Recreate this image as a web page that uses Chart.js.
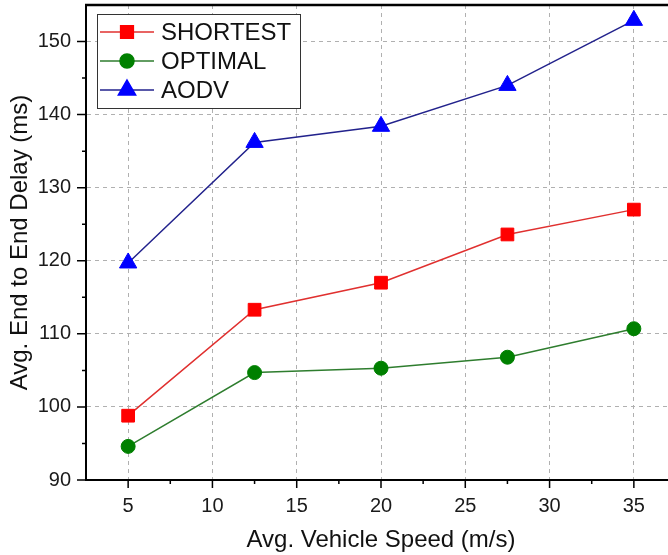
<!DOCTYPE html>
<html>
<head>
<meta charset="utf-8">
<script src="https://cdn.jsdelivr.net/npm/chart.js@4.4.0/dist/chart.umd.min.js"></script>
<style>
  html, body { margin: 0; padding: 0; overflow: hidden; background: #fff; }
  canvas { display: block; }
</style>
</head>
<body>
<canvas id="delay" width="676" height="555"></canvas>
<script>
// vehicle speed (m/s) and avg end-to-end delay (ms)
const speeds = [5, 12.5, 20, 27.5, 35];
const shortest = [98.8, 113.3, 117.0, 123.6, 127.0];
const optimal = [94.6, 104.7, 105.3, 106.8, 110.7];
const aodv = [119.7, 136.2, 138.4, 144.0, 152.9];

const xTicks = [5, 10, 15, 20, 25, 30, 35];
const xMinor = [7.5, 12.5, 17.5, 22.5, 27.5, 32.5];
const yTicks = [90, 100, 110, 120, 130, 140, 150];
const yMinor = [95, 105, 115, 125, 135, 145];

const FONT = "'Liberation Sans', Arial, sans-serif";

const series = [
    { label: 'SHORTEST', data: shortest, line: '#e0302f', fill: '#ff0000', style: 'rect', r: 9 },
    { label: 'OPTIMAL', data: optimal, line: '#2e7d2e', fill: '#008000', style: 'circle', r: 7 },
    { label: 'AODV', data: aodv, line: '#22228c', fill: '#0000ff', style: 'triangle', r: 10 },
];

// no label padding so the plot keeps its fixed box
function noPad(scale) {
    scale.paddingLeft = 0;
    scale.paddingRight = 0;
    scale.paddingTop = 0;
    scale.paddingBottom = 0;
}

// outward tick marks (major + minor), top frame line, and legend box inside plot
const extras = {
    id: 'extras',
    afterDraw(chart) {
        const ctx = chart.ctx;
        const x = chart.scales.x, y = chart.scales.y;
        const area = chart.chartArea;
        ctx.save();
        ctx.strokeStyle = '#000';
        ctx.lineWidth = 1.5;
        ctx.beginPath();
        xTicks.forEach(v => { const p = x.getPixelForValue(v); ctx.moveTo(p, area.bottom); ctx.lineTo(p, area.bottom + 8); });
        xMinor.forEach(v => { const p = x.getPixelForValue(v); ctx.moveTo(p, area.bottom); ctx.lineTo(p, area.bottom + 4); });
        yTicks.forEach(v => { const p = y.getPixelForValue(v); ctx.moveTo(area.left, p); ctx.lineTo(area.left - 9, p); });
        yMinor.forEach(v => { const p = y.getPixelForValue(v); ctx.moveTo(area.left, p); ctx.lineTo(area.left - 4, p); });
        ctx.stroke();

        ctx.lineWidth = 2.5;
        ctx.beginPath();
        ctx.moveTo(area.left - 1, area.top);
        ctx.lineTo(area.right, area.top);
        ctx.stroke();

        // legend
        ctx.fillStyle = '#fff';
        ctx.fillRect(97, 14, 203, 94);
        ctx.strokeStyle = '#333';
        ctx.lineWidth = 1;
        ctx.strokeRect(97.5, 14.5, 203, 94);
        ctx.font = '24px ' + FONT;
        ctx.textBaseline = 'middle';
        series.forEach((s, i) => {
            const cy = 32 + i * 29;
            ctx.strokeStyle = s.line;
            ctx.lineWidth = 1.5;
            ctx.beginPath();
            ctx.moveTo(100, cy);
            ctx.lineTo(154, cy);
            ctx.stroke();
            ctx.fillStyle = s.fill;
            ctx.strokeStyle = s.fill;
            Chart.helpers.drawPoint(ctx, { pointStyle: s.style, radius: s.r, borderWidth: 1 }, 127, cy);
            ctx.fillStyle = '#111';
            ctx.fillText(s.label, 161, cy + 1);
        });
        ctx.restore();
    }
};

const canvas = document.getElementById('delay').getContext('2d');
const delayChart = new Chart(canvas, {
    type: 'line',
    data: {
        datasets: series.map(s => ({
            label: s.label,
            data: speeds.map((v, i) => ({ x: v, y: s.data[i] })),
            borderColor: s.line,
            borderWidth: 1.5,
            backgroundColor: s.fill,
            pointBackgroundColor: s.fill,
            pointBorderColor: s.fill,
            pointStyle: s.style,
            pointRadius: s.r,
            pointBorderWidth: 1,
            tension: 0,
        })),
    },
    options: {
        responsive: false,
        animation: false,
        layout: { autoPadding: false, padding: { top: 5, right: 0, left: 0, bottom: 0 } },
        plugins: {
            legend: { display: false },
            tooltip: { enabled: false },
        },
        scales: {
            x: {
                type: 'linear',
                min: 2.5,
                max: 37.5,
                afterBuildTicks: (scale) => { scale.ticks = xTicks.map(v => ({ value: v })); },
                afterFit: (scale) => { scale.height = 75; noPad(scale); },
                border: { display: true, color: '#000', width: 2, dash: [4, 4] },
                grid: { color: '#b0b0b0', lineWidth: 1, drawTicks: true, tickLength: 8, tickColor: 'rgba(0,0,0,0)' },
                ticks: { color: '#1a1a1a', font: { family: FONT, size: 20 }, padding: 6, maxRotation: 0 },
                title: { display: true, text: 'Avg. Vehicle Speed (m/s)', color: '#111', font: { family: FONT, size: 24 }, padding: { top: 0, bottom: 0 } },
            },
            y: {
                min: 90,
                max: 155,
                afterBuildTicks: (scale) => { scale.ticks = yTicks.map(v => ({ value: v })); },
                afterFit: (scale) => { scale.width = 86; noPad(scale); },
                border: { display: true, color: '#000', width: 2, dash: [4, 4] },
                grid: {
                    color: (c) => (c.tick && c.tick.value === 90 ? 'rgba(0,0,0,0)' : '#b0b0b0'),
                    lineWidth: 1, drawTicks: true, tickLength: 9, tickColor: 'rgba(0,0,0,0)',
                },
                ticks: { color: '#1a1a1a', font: { family: FONT, size: 20 }, padding: 6 },
                title: { display: true, text: 'Avg. End to End Delay (ms)', color: '#111', font: { family: FONT, size: 24 }, padding: { top: 6, bottom: 0 } },
            },
        },
    },
    plugins: [extras],
});
</script>
</body>
</html>
